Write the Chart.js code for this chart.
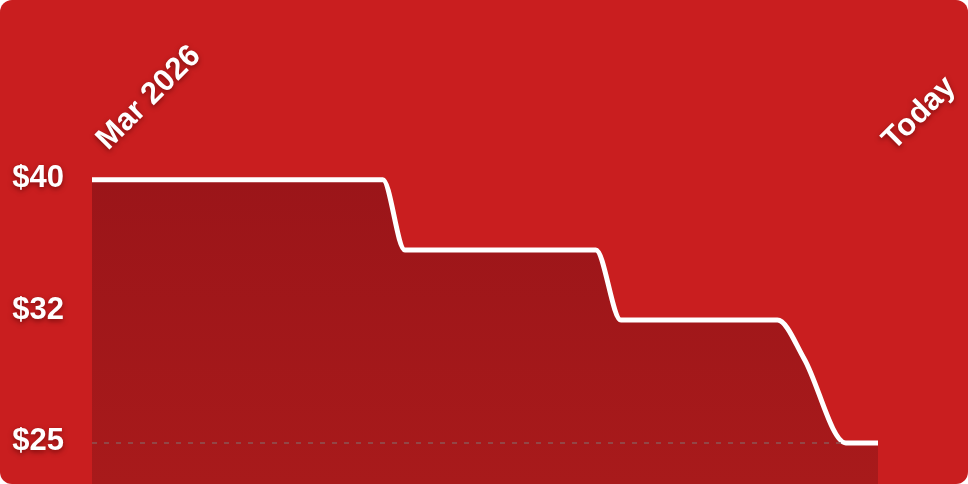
<!DOCTYPE html>
<html>
<head>
<meta charset="utf-8">
<script src="https://cdn.jsdelivr.net/npm/chart.js@4.4.1/dist/chart.umd.min.js"></script>
<style>
  html, body { margin: 0; padding: 0; background: #ffffff; }
  #wrap { position: relative; width: 968px; height: 484px; background: #c91e1f; border-radius: 12px; overflow: hidden; }
</style>
</head>
<body>
<div id="wrap"><canvas id="c"></canvas></div>
<script>
// ---- data ----
const dayIndex = [0, 37, 39.8, 64.1, 67.3, 87.2, 90.6, 95.9, 100];
const prices   = [40, 40, 36, 36, 32, 32, 29.8, 25, 25];
const xLabelValues = [0, 100];
const xLabels = ['Mar 2026', 'Today'];
const yTickValues = [40, 32.5, 25];
const yTickLabels = ['$40', '$32', '$25'];
const baselineValue = 25;

const points = dayIndex.map((d, i) => ({ x: d, y: prices[i] }));

const FONT = 'bold 31px "Liberation Sans", Arial, Helvetica, sans-serif';

const labelPlugin = {
  id: 'labels',
  afterDatasetsDraw(chart) {
    const { ctx, chartArea, scales } = chart;
    const y = scales.y.getPixelForValue(baselineValue);
    const firstIdx = prices.indexOf(baselineValue);
    const xEnd = scales.x.getPixelForValue(dayIndex[firstIdx]) - 4;
    ctx.save();
    ctx.strokeStyle = 'rgba(140,85,85,0.75)';
    ctx.lineWidth = 2;
    ctx.setLineDash([5, 7]);
    ctx.beginPath();
    ctx.moveTo(chartArea.left, y);
    ctx.lineTo(xEnd, y);
    ctx.stroke();
    ctx.restore();
  },
  afterDraw(chart) {
    const { ctx, chartArea, scales } = chart;
    ctx.save();
    ctx.font = FONT;
    ctx.fillStyle = '#ffffff';
    ctx.shadowColor = 'rgba(60,0,0,0.55)';
    ctx.shadowBlur = 5;
    ctx.shadowOffsetX = 0;
    ctx.shadowOffsetY = 2;
    // y tick labels
    ctx.textAlign = 'right';
    ctx.textBaseline = 'middle';
    yTickValues.forEach((v, i) => {
      const py = scales.y.getPixelForValue(v);
      ctx.fillText(yTickLabels[i], chartArea.left - 28, py - 1);
    });
    // x labels, rotated
    ctx.textAlign = 'left';
    ctx.textBaseline = 'alphabetic';
    xLabelValues.forEach((v, i) => {
      const px = scales.x.getPixelForValue(v);
      ctx.save();
      ctx.translate(px + 16, 151);
      ctx.rotate(-Math.PI / 4);
      ctx.fillText(xLabels[i], 0, 0);
      ctx.restore();
    });
    ctx.restore();
  }
};

new Chart(document.getElementById('c'), {
  type: 'line',
  data: {
    datasets: [{
      data: points,
      borderColor: '#ffffff',
      borderWidth: 5,
      borderJoinStyle: 'round',
      pointRadius: 0,
      cubicInterpolationMode: 'monotone',
      fill: 'start',
      backgroundColor(context) {
        const { chart } = context;
        const area = chart.chartArea;
        if (!area) return '#a0171a';
        const g = chart.ctx.createLinearGradient(0, chart.scales.y.getPixelForValue(40), 0, area.bottom);
        g.addColorStop(0, '#9b1519');
        g.addColorStop(1, '#a81a1b');
        return g;
      }
    }]
  },
  options: {
    responsive: true,
    maintainAspectRatio: false,
    animation: false,
    devicePixelRatio: 1,
    layout: { padding: { left: 92, right: 90, top: 92, bottom: 0 } },
    plugins: { legend: { display: false }, tooltip: { enabled: false } },
    scales: {
      x: { type: 'linear', min: 0, max: 100, display: false },
      y: { type: 'linear', min: 22.66, max: 45, display: false }
    }
  },
  plugins: [labelPlugin]
});
</script>
</body>
</html>
